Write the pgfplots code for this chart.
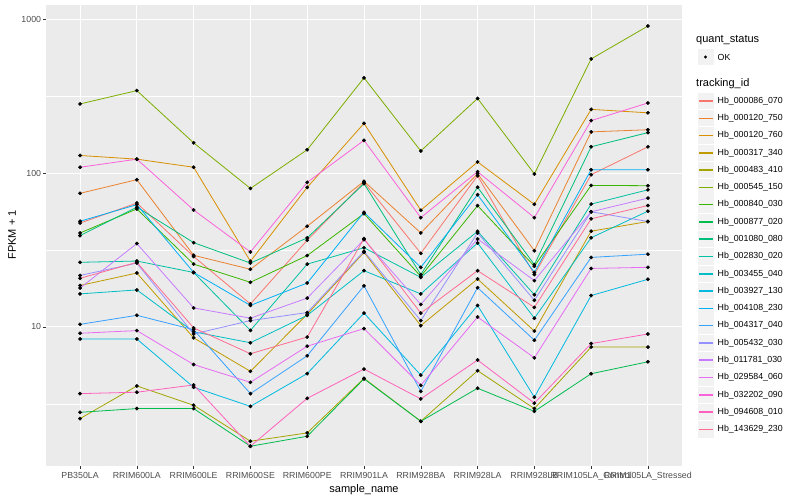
\documentclass[border=0pt]{standalone}
\usepackage{pgfplots}
\pgfplotsset{compat=1.18}
\usepackage{pgfplotstable}
\usepackage{fontspec}
\setmainfont{Liberation Sans}

\definecolor{panelgrey}{HTML}{EBEBEB}
\definecolor{keygrey}{HTML}{F2F2F2}
\definecolor{tickgrey}{HTML}{4D4D4D}
\definecolor{tickline}{HTML}{333333}
\definecolor{c1}{HTML}{F8766D}
\definecolor{c2}{HTML}{EA8331}
\definecolor{c3}{HTML}{D89000}
\definecolor{c4}{HTML}{C09B00}
\definecolor{c5}{HTML}{A3A500}
\definecolor{c6}{HTML}{7CAE00}
\definecolor{c7}{HTML}{39B600}
\definecolor{c8}{HTML}{00BB4E}
\definecolor{c9}{HTML}{00BF7D}
\definecolor{c10}{HTML}{00C1A3}
\definecolor{c11}{HTML}{00BFC4}
\definecolor{c12}{HTML}{00BAE0}
\definecolor{c13}{HTML}{00B0F6}
\definecolor{c14}{HTML}{35A2FF}
\definecolor{c15}{HTML}{9590FF}
\definecolor{c16}{HTML}{C77CFF}
\definecolor{c17}{HTML}{E76BF3}
\definecolor{c18}{HTML}{FA62DB}
\definecolor{c19}{HTML}{FF62BC}
\definecolor{c20}{HTML}{FF6C91}

% FPKM + 1 per sample (rows) and tracking id (columns s1..s20, legend order)
\pgfplotstableread{
x  s1   s2   s3   s4   s5   s6    s7   s8   s9   s10  s11  s12  s13  s14  s15  s16  s17  s18  s19  s20
0  47.3 73.8 130  18.6 2.54 281   40.8 2.79 39.2 26.3 16.4 8.35 48.6 10.4 21.6 17.9 9.1  109  3.69 20.7
1  63.8 90.5 123  22.4 4.14 343   58.4 2.95 60   26.8 17.4 8.35 62.3 11.9 26.0 34.8 9.47 123  3.77 26.3
2  28.7 29.2 109  8.5  3.1  157   25.6 2.95 35.3 22.6 9.3  4.06 22.6 9.6  9.0  13.3 5.7  57.5 4.2  9.86
3  14.1 23.7 26.7 5.15 1.81 79.4  19.5 1.68 26.0 9.5  7.9  3.05 13.8 3.69 11.0 11.4 4.37 30.7 1.68 6.7
4  36.6 45.1 80.7 12.1 2.05 141.6 29.1 1.95 37.9 25.6 11.9 4.98 19.3 6.5  12.4 15.4 7.5  87   3.44 8.6
5  87   88.4 210  30.5 4.64 415   54.5 4.6  85.3 32.7 23.2 12.3 55.6 18.5 31.0 36.9 9.76 163  5.33 37.5
6  30.1 40.8 57.3 10.2 2.44 139   21.3 2.44 21.9 21.0 16.4 4.87 24.4 3.82 11.0 14.0 4.18 51.3 3.41 12.3
7  96   99   118  20.5 5.2  305   61.4 4.0  80.8 41.8 35.1 13.8 72.3 18   40.8 37.3 11.6 102  6.1  23.2
8  21.9 31.3 62.6 9.4  2.95 98.6  24.8 2.83 25.4 16.2 11.4 3.5  22.6 8.2  14.9 20.0 6.3  51.3 3.2  13.4
9  97.5 185  259  41.9 7.4  551   83.1 4.97 148  62.8 38   16   105  28.3 56   56   24   219  7.8  50.4
10 148  191  246  48.4 7.4  901   82.7 5.94 183  77.8 56.5 20.4 105  29.7 48.4 68.7 24.4 285  9.0  61.5
}\fpkm

\begin{document}
\begin{tikzpicture}[x=1pt,y=1pt]
\useasboundingbox (0,0) rectangle (800,500);
\begin{axis}[
  at={(46pt,34pt)}, anchor=south west,
  scale only axis, width=636pt, height=461pt,
  ymode=log, log basis y=10,
  xmin=-0.6, xmax=10.6, ymin=1.25, ymax=1234,
  axis background/.style={fill=panelgrey},
  axis line style={draw=none},
  xtick={0,...,10},
  xticklabels={PB350LA,RRIM600LA,RRIM600LE,RRIM600SE,RRIM600PE,RRIM901LA,RRIM928BA,RRIM928LA,RRIM928LB,RRIM105LA\_Control,RRIM105LA\_Stressed},
  ytick={10,100,1000}, yticklabels={10,100,1000},
  minor ytick={3.1623,31.623,316.23},
  xmajorgrids, ymajorgrids, yminorgrids,
  major grid style={white, line width=1pt},
  minor grid style={white, line width=0.5pt},
  tick align=outside, major tick length=2.75pt, minor tick length=0pt,
  xtick pos=bottom, ytick pos=left,
  tick style={tickline, line width=0.5pt},
  ticklabel style={font=\fontsize{8.8}{10}\selectfont, text=tickgrey, inner sep=1pt},
  xticklabel style={yshift=-2.5pt},
  yticklabel style={xshift=-1pt},
  clip=false,
]
\pgfplotsinvokeforeach{1,...,20}{
  \addplot[color=c#1, line width=0.8pt, mark=none] table[x=x, y=s#1]{\fpkm};
}
\pgfplotsinvokeforeach{1,...,20}{
  \addplot[only marks, mark=*, mark size=1.7pt, black] table[x=x, y=s#1]{\fpkm};
}
\end{axis}

% axis titles
\node[font=\fontsize{11}{13}\selectfont] at (364,10) {sample\_name};
\node[font=\fontsize{11}{13}\selectfont, rotate=90] at (12,265) {FPKM + 1};

% legends
\node[anchor=west, font=\fontsize{11}{13}\selectfont, inner sep=0pt] at (696,460) {quant\_status};
\filldraw[fill=keygrey, draw=white] (697,434.5) rectangle ++(17,17);
\fill[black] (705.5,443) circle (1.7);
\node[anchor=west, font=\fontsize{8.8}{10}\selectfont, inner sep=0pt] at (717.5,443) {OK};

\node[anchor=west, font=\fontsize{11}{13}\selectfont, inner sep=0pt] at (696,416) {tracking\_id};
\foreach \kcol/\klab [count=\i from 0] in {c1/Hb\_000086\_070,c2/Hb\_000120\_750,c3/Hb\_000120\_760,c4/Hb\_000317\_340,c5/Hb\_000483\_410,c6/Hb\_000545\_150,c7/Hb\_000840\_030,c8/Hb\_000877\_020,c9/Hb\_001080\_080,c10/Hb\_002830\_020,c11/Hb\_003455\_040,c12/Hb\_003927\_130,c13/Hb\_004108\_230,c14/Hb\_004317\_040,c15/Hb\_005432\_030,c16/Hb\_011781\_030,c17/Hb\_029584\_060,c18/Hb\_032202\_090,c19/Hb\_094608\_010,c20/Hb\_143629\_230}{
  \pgfmathsetmacro{\yy}{399-17.28*\i}
  \fill[keygrey] (697.5,\yy-8.2) rectangle ++(16.3,16.4);
  \draw[draw=\kcol, line width=1.5pt] (698.8,\yy) -- (712.5,\yy);
  \node[anchor=west, font=\fontsize{8.8}{10}\selectfont, inner sep=0pt] at (717.5,\yy) {\klab};
}
\end{tikzpicture}
\end{document}
